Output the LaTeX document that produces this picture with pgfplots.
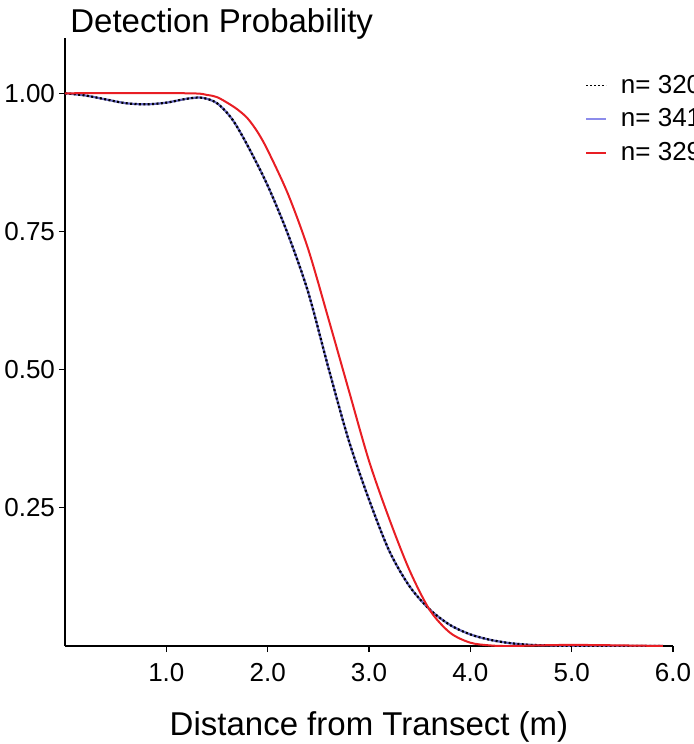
\documentclass[border=0pt]{standalone}
\usepackage{fontspec}
\setmainfont{Liberation Sans}
\usepackage{pgfplots}
\pgfplotsset{compat=1.18}
\usetikzlibrary{calc}
\definecolor{curvered}{RGB}{232,30,36}
\definecolor{curveblue}{RGB}{100,100,190}
\definecolor{legendblue}{RGB}{140,140,235}

% n = 320 / n = 341 (the two curves lie on top of each other)
\pgfplotstableread{
x y
0.00 1.000
0.20 0.996
0.40 0.989
0.60 0.982
0.80 0.980
1.00 0.983
1.20 0.990
1.35 0.992
1.50 0.982
1.65 0.953
1.80 0.906
2.00 0.833
2.20 0.745
2.40 0.640
2.60 0.503
2.80 0.372
3.00 0.265
3.20 0.172
3.40 0.108
3.60 0.066
3.80 0.038
4.00 0.021
4.20 0.011
4.40 0.005
4.60 0.002
4.80 0.001
5.00 0.000
5.90 0.000
}\tabblack

% n = 329
\pgfplotstableread{
x y
0.00 1.000
1.20 1.000
1.40 0.997
1.50 0.993
1.60 0.983
1.70 0.971
1.80 0.955
1.90 0.930
2.00 0.897
2.20 0.818
2.40 0.718
2.60 0.592
2.80 0.463
3.00 0.335
3.20 0.230
3.40 0.137
3.60 0.065
3.80 0.024
4.00 0.006
4.20 0.001
4.40 0.000
5.00 0.002
5.90 0.000
}\tabred

\begin{document}
\begin{tikzpicture}
\begin{axis}[
    name=ax,
    scale only axis,
    width=304pt, height=304pt,
    xmin=0, xmax=6, ymin=0, ymax=1.1,
    axis lines=left,
    axis line style={-, line width=0.7pt},
    tick align=outside,
    major tick length=3pt,
    tick style={line width=0.6pt, black},
    xtick={1,2,3,4,5,6},
    ytick={0.25,0.5,0.75,1},
    /pgf/number format/assume math mode=true,
    tick label style={font=\fontsize{13}{15}\selectfont},
    xticklabel style={yshift=-2pt, /pgf/number format/fixed, /pgf/number format/fixed zerofill, /pgf/number format/precision=1},
    yticklabel style={xshift=1.5pt, /pgf/number format/fixed, /pgf/number format/fixed zerofill, /pgf/number format/precision=2},
    xlabel={Distance from Transect (m)},
    xlabel style={font=\fontsize{16.5}{19}\selectfont, at={(axis description cs:0.5,0)}, anchor=base, yshift=-44.5pt},
    legend style={draw=none, fill=none, at={(axis description cs:0.845,0.953)}, anchor=north west,
        font=\fontsize{13}{15}\selectfont, row sep=2.2pt, column sep=5pt, nodes={inner sep=2pt}},
    legend cell align=left,
    legend image code/.code={\draw[#1] (0pt,0pt) -- (10pt,0pt);},
]
\addlegendimage{black, line width=0.8pt, dash pattern=on 0.8pt off 1.2pt}
\addlegendentry{n= 320}
\addlegendimage{legendblue, line width=0.8pt}
\addlegendentry{n= 341}
\addlegendimage{curvered, line width=0.9pt}
\addlegendentry{n= 329}
\addplot[curveblue, line width=1.1pt, smooth, forget plot] table[x=x, y=y] {\tabblack};
\addplot[black, line width=1.1pt, dash pattern=on 1pt off 1.2pt, smooth, forget plot] table[x=x, y=y] {\tabblack};
\addplot[curvered, line width=1pt, smooth, forget plot] table[x=x, y=y] {\tabred};
\end{axis}
\node[anchor=base west, inner sep=0pt, font=\fontsize{16.5}{19}\selectfont] at ($(ax.south west)+(2.5pt,306.5pt)$) {Detection Probability};
\pgfresetboundingbox
\path ($(ax.south west)+(-32.5pt,-49pt)$) rectangle ($(ax.south west)+(314.5pt,323pt)$);
\end{tikzpicture}
\end{document}
